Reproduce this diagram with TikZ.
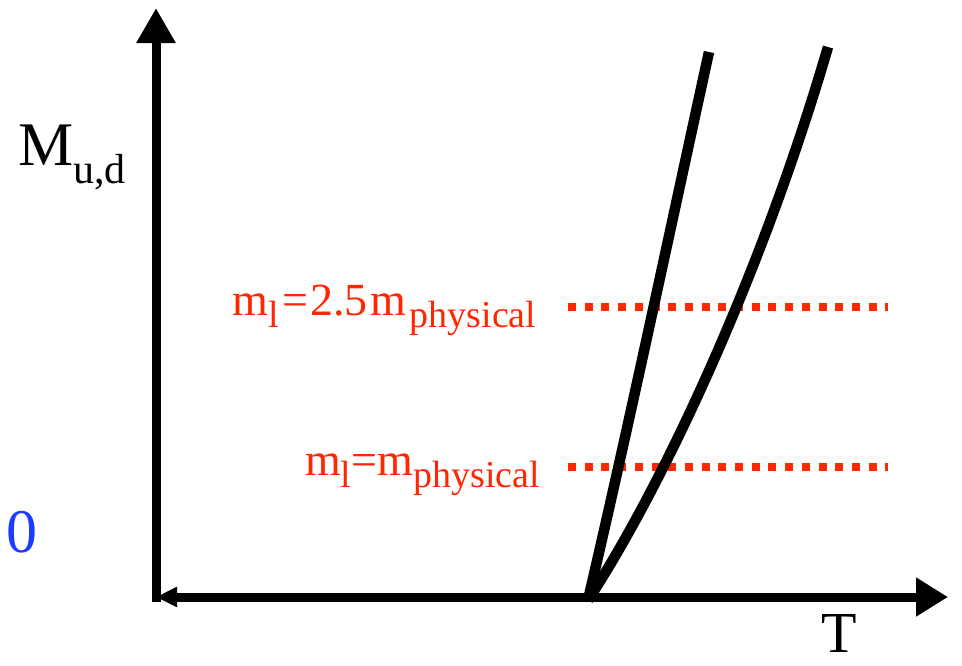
\documentclass[tikz,border=0pt]{standalone}
\usepackage{fontspec}
\setmainfont{Liberation Serif}
\usetikzlibrary{arrows.meta}
\definecolor{labred}{RGB}{255,38,0}
\definecolor{zeroblue}{RGB}{26,60,255}
\newcommand{\lsub}[1]{\raisebox{-12pt}{\fontsize{38}{38}\selectfont #1}}
\begin{document}
\begin{tikzpicture}[x=1pt,y=-1pt,
  axis/.style={line width=9pt},
  curve/.style={line width=10.5pt},
  level/.style={labred,line width=8pt,dash pattern=on 8pt off 8.7pt},
  lbl/.style={inner sep=0pt,anchor=base west}]
\useasboundingbox (0,0) rectangle (962,665);
% axes
\coordinate (o) at (156,597);
\coordinate (ybot) at (156,602);
\coordinate (ytip) at (156,8);
\coordinate (xtip) at (948,597);
\draw[axis,-{Triangle[length=35pt,width=37pt]}] (ybot) -- (ytip);
\draw[axis,{Triangle[length=21pt,width=19pt]}-{Triangle[length=32pt,width=37pt]}] (o) -- (xtip);
% level lines
\coordinate (a1) at (568,307);
\coordinate (a2) at (888,307);
\coordinate (b1) at (568,467);
\coordinate (b2) at (888,467);
\draw[level] (a1) -- (a2);
\draw[level] (b1) -- (b2);
% curves
\coordinate (c0) at (588,600);
\coordinate (c1) at (709,52);
\coordinate (c2) at (828,47);
\draw[curve] (c0) .. controls (630,420) and (670,230) .. (c1);
\draw[curve] (c0) .. controls (660,490) and (760,280) .. (c2);
% labels
\node[lbl] (M) at (18,165) {\fontsize{62}{62}\selectfont M\raisebox{-18pt}{\fontsize{42}{42}\selectfont u,d}};
\node[lbl,text=labred] (L1) at (232,315) {\fontsize{46}{46}\selectfont m\hspace{1pt}\lsub{l}\hspace{3pt}=\hspace{2pt}2.5\hspace{3pt}m\hspace{3pt}\lsub{physical}};
\node[lbl,text=labred] (L2) at (305,475) {\fontsize{46}{46}\selectfont m\lsub{l}=m\lsub{physical}};
\node[lbl,text=zeroblue] (Z) at (6,552) {\fontsize{62}{62}\selectfont 0};
\node[lbl] (T) at (821,652) {\fontsize{58}{58}\selectfont T};
\end{tikzpicture}
\end{document}
